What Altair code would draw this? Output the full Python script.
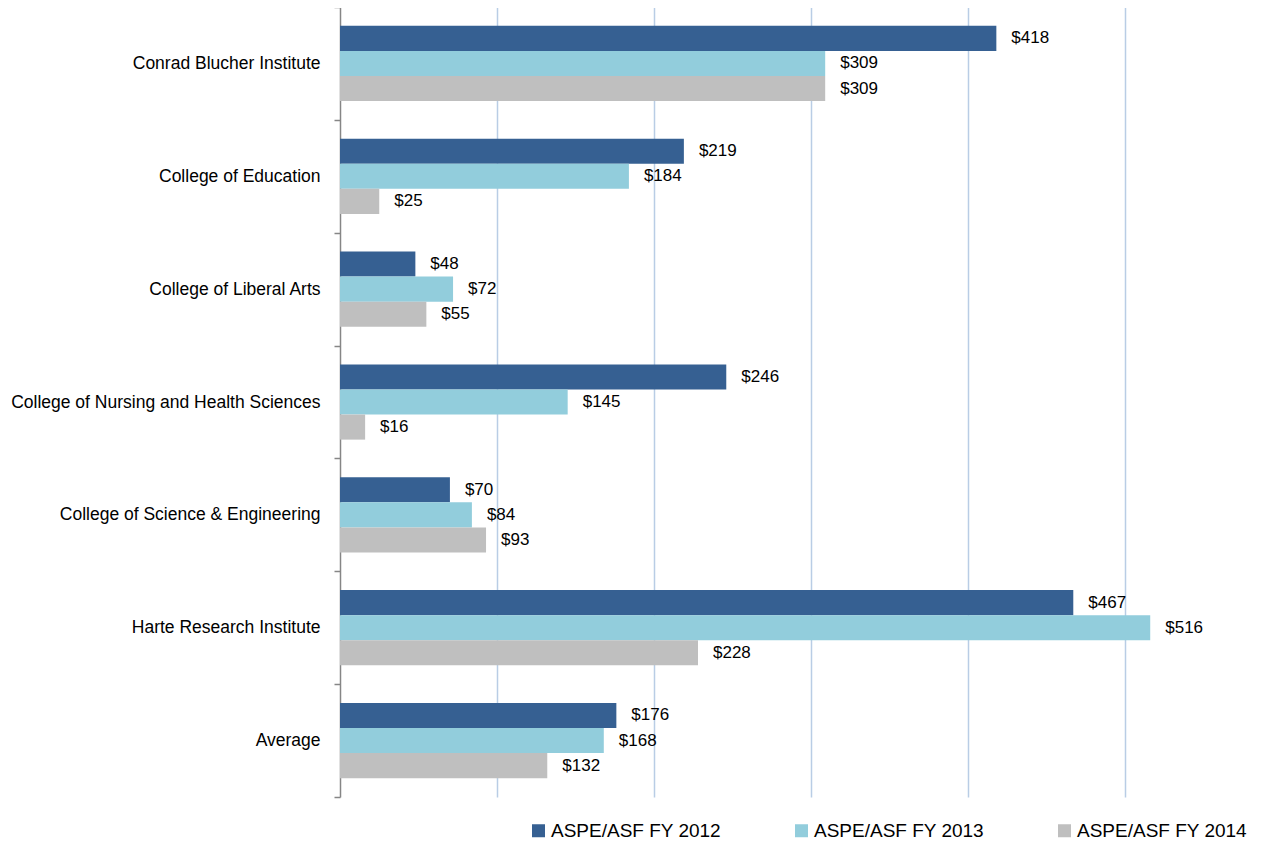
import altair as alt
import pandas as pd

categories = [
    "Conrad Blucher Institute",
    "College of Education",
    "College of Liberal Arts",
    "College of Nursing and Health Sciences",
    "College of Science & Engineering",
    "Harte Research Institute",
    "Average",
]
series = ["ASPE/ASF FY 2012", "ASPE/ASF FY 2013", "ASPE/ASF FY 2014"]
fy2012 = [418, 219, 48, 246, 70, 467, 176]
fy2013 = [309, 184, 72, 145, 84, 516, 168]
fy2014 = [309, 25, 55, 16, 93, 228, 132]
colors = ["#366092", "#92cddc", "#bfbfbf"]
grid_values = [100, 200, 300, 400, 500]

rows = []
for s, vals in zip(series, [fy2012, fy2013, fy2014]):
    for c, v in zip(categories, vals):
        rows.append({"category": c, "series": s, "value": v, "label": f"${v}"})
df = pd.DataFrame(rows)

FONT = "Liberation Sans"

base = alt.Chart(df).encode(
    y=alt.Y(
        "category:N",
        sort=categories,
        title=None,
        scale=alt.Scale(paddingInner=0, paddingOuter=0),
        axis=alt.Axis(
            labelFont=FONT,
            labelFontSize=17.5,
            labelColor="#000000",
            labelPadding=14,
            labelLimit=400,
            tickBand="extent",
            tickSize=6,
            tickColor="#868686",
            tickWidth=1.5,
            domainColor="#868686",
            domainWidth=1.5,
            minExtent=332,
            maxExtent=332,
            grid=False,
        ),
    ),
    yOffset=alt.YOffset(
        "series:N", sort=series, scale=alt.Scale(paddingInner=0, paddingOuter=0.75)
    ),
    x=alt.X(
        "value:Q",
        title=None,
        scale=alt.Scale(domain=[0, 584], nice=False, zero=True),
        axis=alt.Axis(
            values=grid_values,
            labels=False,
            ticks=False,
            domain=False,
            grid=True,
            gridColor="#b9cde5",
            gridWidth=1.5,
        ),
    ),
)

bars = base.mark_bar().encode(
    color=alt.Color(
        "series:N",
        sort=series,
        scale=alt.Scale(domain=series, range=colors),
        legend=alt.Legend(
            title=None,
            orient="none",
            direction="horizontal",
            legendX=189,
            legendY=814,
            symbolType="square",
            symbolSize=169,
            symbolStrokeWidth=0,
            labelFont=FONT,
            labelFontSize=19,
            labelColor="#000000",
            labelOffset=3,
            columnPadding=70,
            labelLimit=300,
        ),
    ),
)

labels = base.mark_text(
    align="left", baseline="middle", dx=15, font=FONT, fontSize=17, color="#000000"
).encode(text="label:N")

chart = (
    alt.layer(bars, labels)
    .properties(
        width=917,
        height=790,
        background="#ffffff",
        padding={"left": 0, "top": -10, "right": 0, "bottom": 0},
    )
    .configure_view(strokeWidth=0, stroke="transparent")
)

chart.save("out.html", embed_options={"renderer": "svg", "actions": False})
